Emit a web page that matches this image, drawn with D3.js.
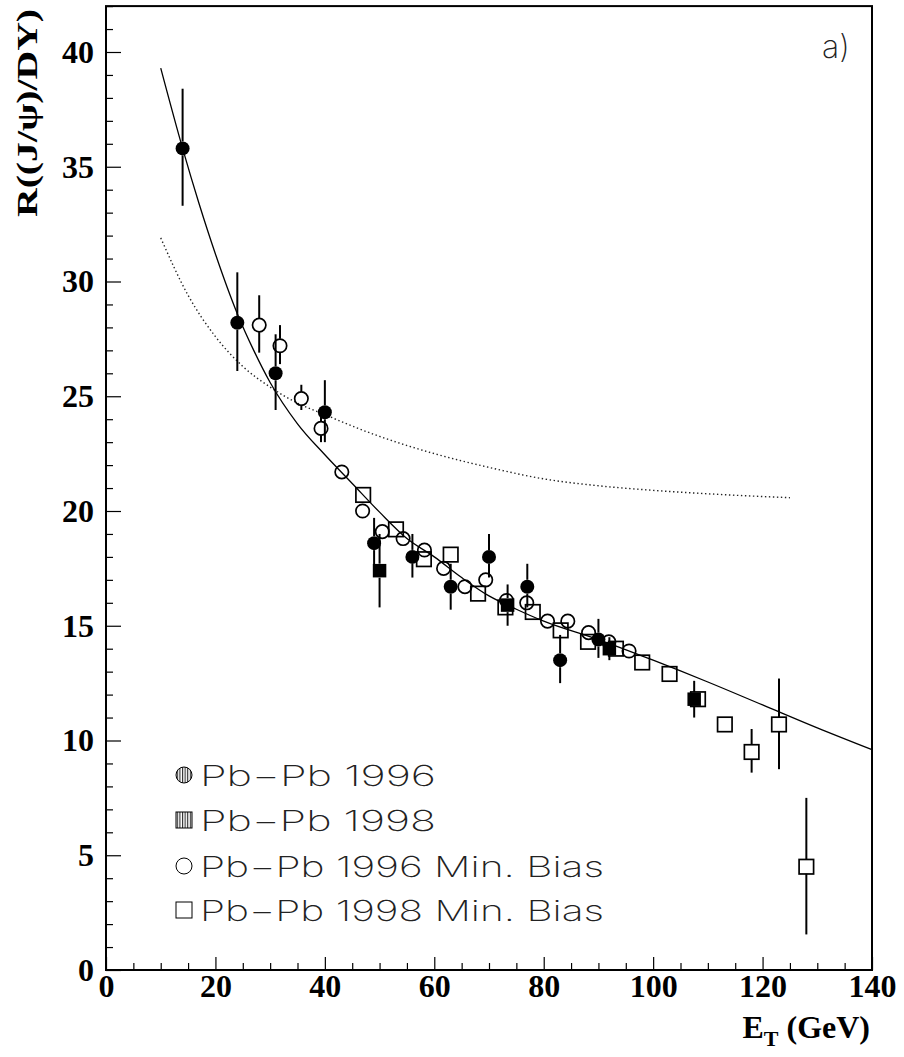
<!DOCTYPE html>
<html><head><meta charset="utf-8">
<script src="https://cdn.jsdelivr.net/npm/d3@7"></script>
<style>body{margin:0;background:#fff}svg{display:block}</style>
</head><body>
<svg id="c" width="904" height="1057"></svg>
<script>
// ---- data ----
// Pb-Pb 1996 (filled circles): E_T, R, low, high
const pb96E  = [14.0, 24.0, 31.0, 40.0, 49.0, 56.0, 63.0, 70.0, 77.0, 83.0, 90.0];
const pb96R  = [35.8, 28.2, 26.0, 24.3, 18.6, 18.0, 16.7, 18.0, 16.7, 13.5, 14.4];
const pb96Lo = [33.3, 26.1, 24.4, 23.0, 17.6, 17.1, 15.7, 17.1, 15.8, 12.5, 13.6];
const pb96Hi = [38.4, 30.4, 27.7, 25.7, 19.7, 19.0, 17.7, 19.0, 17.7, 14.6, 15.3];
// Pb-Pb 1998 (filled squares)
const pb98E  = [50.0, 73.4, 92.0, 107.5];
const pb98R  = [17.4, 15.9, 14.0, 11.8];
const pb98Lo = [15.8, 15.0, 13.5, 11.0];
const pb98Hi = [19.0, 16.8, 14.5, 12.6];
// Pb-Pb 1996 Min. Bias (open circles)
const mb96E  = [28.0, 31.8, 35.7, 39.3, 43.1, 46.9, 50.5, 54.3, 58.2, 61.7, 65.6, 69.4, 73.2, 76.9, 80.7, 84.4, 88.2, 91.9, 95.6];
const mb96R  = [28.1, 27.2, 24.9, 23.6, 21.7, 20.0, 19.1, 18.8, 18.3, 17.5, 16.7, 17.0, 16.1, 16.0, 15.2, 15.2, 14.7, 14.3, 13.9];
const mb96Lo = [26.9, 26.4, 24.4, 23.0, 21.4, 19.7, 18.8, 18.5, 18.0, 17.2, 16.4, 16.7, 15.8, 15.7, 14.95, 14.95, 14.45, 14.05, 13.65];
const mb96Hi = [29.4, 28.1, 25.5, 24.2, 22.0, 20.3, 19.4, 19.1, 18.6, 17.8, 17.0, 17.3, 16.4, 16.3, 15.5, 15.5, 14.95, 14.55, 14.15];
// Pb-Pb 1998 Min. Bias (open squares)
const mb98E  = [47.0, 53.0, 58.1, 63.0, 68.0, 73.0, 78.0, 83.1, 88.1, 93.2, 98.0, 103.0, 108.2, 113.1, 118.0, 123.0, 128.0];
const mb98R  = [20.7, 19.2, 17.9, 18.1, 16.4, 15.8, 15.6, 14.8, 14.3, 14.0, 13.4, 12.9, 11.8, 10.7, 9.5, 10.7, 4.5];
const mb98Lo = [20.4, 18.9, 17.6, 17.8, 16.1, 15.5, 15.3, 14.5, 14.0, 13.7, 13.1, 12.6, 11.5, 10.4, 8.6, 8.75, 1.55];
const mb98Hi = [21.0, 19.5, 18.2, 18.4, 16.7, 16.1, 15.9, 15.1, 14.6, 14.3, 13.7, 13.2, 12.1, 11.0, 10.5, 12.7, 7.5];
// solid curve (fit) points
const fitE = [10, 14, 17, 20, 24, 27, 30, 35, 40, 45, 50, 55, 60, 65, 70, 75, 80, 90, 100, 110, 120, 130, 140];
const fitR = [39.3, 35.8, 33.4, 31.2, 28.6, 27.0, 25.6, 23.8, 22.45, 21.2, 19.95, 18.8, 18.0, 17.1, 16.3, 15.72, 15.2, 14.4, 13.5, 12.55, 11.55, 10.55, 9.6];
// dotted curve points
const dotE = [10, 15, 20, 25, 30, 35, 40, 45, 50, 60, 70, 80, 90, 100, 110, 120, 125];
const dotR = [31.9, 29.4, 27.6, 26.3, 25.4, 24.7, 24.2, 23.7, 23.25, 22.5, 21.9, 21.4, 21.1, 20.9, 20.75, 20.63, 20.58];
// ticks and labels
const xMajor = [0, 20, 40, 60, 80, 100, 120, 140];
const yMajor = [0, 5, 10, 15, 20, 25, 30, 35, 40];
const legendLabels = ["Pb\u2212Pb 1996", "Pb\u2212Pb 1998", "Pb\u2212Pb 1996 Min. Bias", "Pb\u2212Pb 1998 Min. Bias"];

// ---- drawing ----
const svg = d3.select("#c");
const x = d3.scaleLinear().domain([0, 140]).range([106, 872]);
const y = d3.scaleLinear().domain([0, 42]).range([970, 6.1]);

const defs = svg.append("defs");
const pat = defs.append("pattern").attr("id", "hatch").attr("patternUnits", "userSpaceOnUse")
  .attr("width", 2.6).attr("height", 4);
pat.append("line").attr("x1", 0.6).attr("x2", 0.6).attr("y1", 0).attr("y2", 4)
  .attr("stroke", "#000").attr("stroke-width", 0.9);

// axes
const serif = "'Liberation Serif','Times New Roman',serif";
const yMinor = d3.range(0, 43, 1).filter(v => v % 5 !== 0);
const xMinor = d3.range(0, 141, 5).filter(v => v % 20 !== 0);

svg.append("g").attr("transform", "translate(106,0)")
  .call(d3.axisLeft(y).tickValues(yMinor).tickSizeInner(-7).tickSizeOuter(0).tickFormat(""))
  .call(g => g.select(".domain").remove());
const yAx = svg.append("g").attr("transform", "translate(106,0)")
  .call(d3.axisLeft(y).tickValues(yMajor).tickSizeInner(-15).tickSizeOuter(0).tickPadding(12).tickFormat(d3.format("d")))
  .call(g => g.select(".domain").remove());
yAx.selectAll("text").attr("font-family", serif).attr("font-weight", "bold").attr("font-size", 32).attr("fill", "#000");

svg.append("g").attr("transform", "translate(0,970)")
  .call(d3.axisBottom(x).tickValues(xMinor).tickSizeInner(-7).tickSizeOuter(0).tickFormat(""))
  .call(g => g.select(".domain").remove());
const xAx = svg.append("g").attr("transform", "translate(0,970)")
  .call(d3.axisBottom(x).tickValues(xMajor).tickSizeInner(-13).tickSizeOuter(0).tickPadding(4).tickFormat(d3.format("d")))
  .call(g => g.select(".domain").remove());
xAx.selectAll("text").attr("font-family", serif).attr("font-weight", "bold").attr("font-size", 32).attr("fill", "#000");
svg.selectAll(".tick line").attr("stroke", "#000").attr("stroke-width", 1.2);

// frame
svg.append("rect").attr("x", x(0)).attr("y", y(42)).attr("width", x(140) - x(0)).attr("height", y(0) - y(42))
  .attr("fill", "none").attr("stroke", "#000").attr("stroke-width", 2);

// axis titles
svg.append("text").attr("transform", "translate(37,113) rotate(-90)")
  .attr("text-anchor", "middle").attr("font-family", serif).attr("font-weight", "bold").attr("font-size", 30)
  .attr("textLength", 208).attr("lengthAdjust", "spacingAndGlyphs")
  .text("R((J/\u03C8)/DY)");
const xt = svg.append("text").attr("x", 870).attr("y", 1038).attr("text-anchor", "end")
  .attr("font-family", serif).attr("font-weight", "bold").attr("font-size", 32);
xt.append("tspan").text("E");
xt.append("tspan").attr("font-size", 22).attr("dy", 8).text("T");
xt.append("tspan").attr("dy", -8).text(" (GeV)");

const thin = "Inter,'Open Sans','DejaVu Sans',sans-serif";
svg.append("text").attr("x", 822).attr("y", 58).attr("font-family", thin)
  .attr("font-weight", 200).attr("font-size", 32).attr("fill", "#222").text("a)");

// curves
const line = d3.line().x(d => x(d[0])).y(d => y(d[1])).curve(d3.curveMonotoneX);
svg.append("path").attr("d", line(dotE.map((e, i) => [e, dotR[i]])))
  .attr("fill", "none").attr("stroke", "#222").attr("stroke-width", 1.4).attr("stroke-dasharray", "1.4,2.6");
svg.append("path").attr("d", line(fitE.map((e, i) => [e, fitR[i]])))
  .attr("fill", "none").attr("stroke", "#000").attr("stroke-width", 1.3);

// series
const series = [
  {E: mb98E, R: mb98R, lo: mb98Lo, hi: mb98Hi, shape: "square", filled: false},
  {E: mb96E, R: mb96R, lo: mb96Lo, hi: mb96Hi, shape: "circle", filled: false},
  {E: pb98E, R: pb98R, lo: pb98Lo, hi: pb98Hi, shape: "square", filled: true},
  {E: pb96E, R: pb96R, lo: pb96Lo, hi: pb96Hi, shape: "circle", filled: true}
];
const half = 7;
series.forEach(s => {
  const pts = s.E.map((e, i) => ({e, r: s.R[i], lo: s.lo[i], hi: s.hi[i]}));
  const g = svg.append("g");
  // error bars outside the marker
  g.selectAll("line.up").data(pts).join("line")
    .attr("x1", d => x(d.e)).attr("x2", d => x(d.e))
    .attr("y1", d => y(d.hi)).attr("y2", d => Math.max(y(d.hi), y(d.r) - half))
    .attr("stroke", "#000").attr("stroke-width", 2);
  g.selectAll("line.dn").data(pts).join("line")
    .attr("x1", d => x(d.e)).attr("x2", d => x(d.e))
    .attr("y1", d => Math.min(y(d.lo), y(d.r) + half)).attr("y2", d => y(d.lo))
    .attr("stroke", "#000").attr("stroke-width", 2);
  if (s.shape === "circle") {
    g.selectAll("circle").data(pts).join("circle")
      .attr("cx", d => x(d.e)).attr("cy", d => y(d.r)).attr("r", s.filled ? 7 : 6.7)
      .attr("fill", s.filled ? "#000" : "none").attr("stroke", "#000").attr("stroke-width", s.filled ? 0 : 1.7);
  } else {
    const a = s.filled ? 13.5 : 14.5;
    g.selectAll("rect").data(pts).join("rect")
      .attr("x", d => x(d.e) - a / 2).attr("y", d => y(d.r) - a / 2).attr("width", a).attr("height", a)
      .attr("fill", s.filled ? "#000" : "none").attr("stroke", "#000").attr("stroke-width", s.filled ? 0 : 1.7);
  }
});

// legend
const lg = svg.append("g");
const rows = [775, 820, 866, 910];
legendLabels.forEach((t, i) => {
  const cy = rows[i], cx = 184;
  if (i === 0) {
    lg.append("circle").attr("cx", cx).attr("cy", cy).attr("r", 8).attr("fill", "url(#hatch)").attr("stroke", "#000").attr("stroke-width", 1);
  } else if (i === 1) {
    lg.append("rect").attr("x", cx - 8).attr("y", cy - 8).attr("width", 16).attr("height", 16).attr("fill", "url(#hatch)").attr("stroke", "#000").attr("stroke-width", 1);
  } else if (i === 2) {
    lg.append("circle").attr("cx", cx).attr("cy", cy).attr("r", 8).attr("fill", "none").attr("stroke", "#000").attr("stroke-width", 1);
  } else {
    lg.append("rect").attr("x", cx - 8).attr("y", cy - 8).attr("width", 16).attr("height", 16).attr("fill", "none").attr("stroke", "#000").attr("stroke-width", 1);
  }
  lg.append("text").attr("x", 200).attr("y", cy + 11)
    .attr("font-family", thin).attr("font-weight", 200).attr("font-size", 29).attr("fill", "#222")
    .attr("textLength", i < 2 ? 236 : 404).attr("lengthAdjust", "spacingAndGlyphs").text(t);
});
</script>
</body></html>
